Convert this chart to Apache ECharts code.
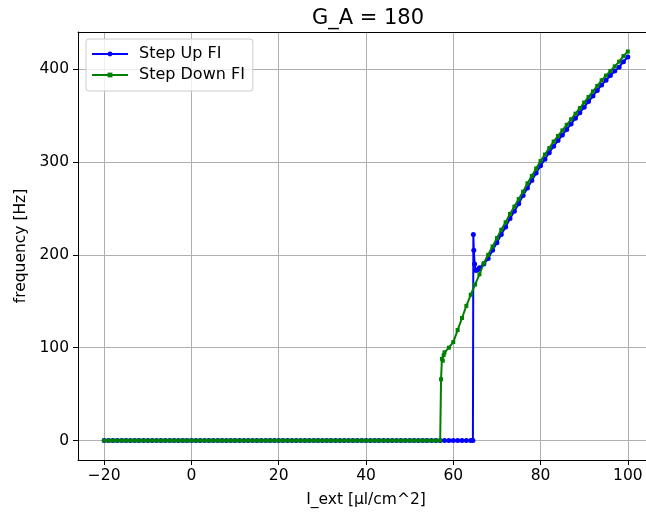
<!DOCTYPE html>
<html>
<head>
<meta charset="utf-8">
<script src="https://cdn.jsdelivr.net/npm/echarts@6/dist/echarts.min.js"></script>
<style>html,body{margin:0;padding:0;background:#fff;overflow:hidden}#c{width:664px;height:516px}</style>
</head>
<body>
<div id="c"></div>
<script>
var title = 'G_A = 180';
var xTicks = [-20, 0, 20, 40, 60, 80, 100];
var yTicks = [0, 100, 200, 300, 400];

// Step Up FI
var upX = [-20,-19,-18,-17,-16,-15,-14,-13,-12,-11,-10,-9,-8,-7,-6,-5,-4,-3,-2,-1,0,
  1,2,3,4,5,6,7,8,9,10,11,12,13,14,15,16,17,18,19,20,21,22,23,24,25,26,27,28,29,30,
  31,32,33,34,35,36,37,38,39,40,41,42,43,44,45,46,47,48,49,50,51,52,53,54,55,56,
  57,58,59,60,61,62,63,64,64.5,
  64.6,64.7,64.9,65.2,65.6,66,67,68,69,70,71,72,73,74,75,76,77,78,79,80,
  81,82,83,84,85,86,87,88,89,90,91,92,93,94,95,96,97,98,99,100];
var upY = [0,0,0,0,0,0,0,0,0,0,0,0,0,0,0,0,0,0,0,0,0,
  0,0,0,0,0,0,0,0,0,0,0,0,0,0,0,0,0,0,0,0,0,0,0,0,0,0,0,0,0,0,
  0,0,0,0,0,0,0,0,0,0,0,0,0,0,0,0,0,0,0,0,0,0,0,0,0,0,
  0,0,0,0,0,0,0,0,0,
  222,205,190,183,184,186,190,196,205,213,222,230,239,247,255,264,272,280,288,296,
  303,310,317,323,329,335,341,347,353,359,365,371,377,383,388,393,398,402,408,413];

// Step Down FI
var downX = [-20,-19,-18,-17,-16,-15,-14,-13,-12,-11,-10,-9,-8,-7,-6,-5,-4,-3,-2,-1,0,
  1,2,3,4,5,6,7,8,9,10,11,12,13,14,15,16,17,18,19,20,21,22,23,24,25,26,27,28,29,30,
  31,32,33,34,35,36,37,38,39,40,41,42,43,44,45,46,47,48,49,50,51,52,53,54,55,56,57,
  57.2,57.4,57.6,57.8,58,59,60,61,62,63,64,65,66,67,68,69,70,71,72,73,74,75,76,77,78,79,80,
  81,82,83,84,85,86,87,88,89,90,91,92,93,94,95,96,97,98,99,100];
var downY = [0,0,0,0,0,0,0,0,0,0,0,0,0,0,0,0,0,0,0,0,0,
  0,0,0,0,0,0,0,0,0,0,0,0,0,0,0,0,0,0,0,0,0,0,0,0,0,0,0,0,0,0,
  0,0,0,0,0,0,0,0,0,0,0,0,0,0,0,0,0,0,0,0,0,0,0,0,0,0,0,
  66,88,86,92,95,100,106,119,132,145,157,168,179,191,200,209,218,227,235,244,252,260,268,277,285,293,301,
  308,315,322,328,334,340,346,352,358,364,370,376,382,388,393,398,403,408,414,419];

function pairs(xs, ys) { return xs.map(function (x, i) { return [x, ys[i]]; }); }

var FONT = 'DejaVu Sans';
var chart = echarts.init(document.getElementById('c'), null, {renderer: 'canvas'});
chart.setOption({
  animation: false,
  backgroundColor: '#ffffff',
  textStyle: {fontFamily: FONT, color: '#000'},
  title: {
    text: title, left: 363, top: 3, textAlign: 'center',
    textStyle: {fontFamily: FONT, fontSize: 21, fontWeight: 'normal', color: '#000'}
  },
  legend: {
    orient: 'vertical', left: 86, top: 39,
    padding: [6, 8, 7, 5],
    itemWidth: 36, itemHeight: 6, itemGap: 3,
    borderColor: '#cccccc', borderWidth: 1, borderRadius: 3,
    backgroundColor: 'rgba(255,255,255,0.8)',
    textStyle: {fontFamily: FONT, fontSize: 16, lineHeight: 18, color: '#000', padding: [0, 0, 0, 6]},
    data: ['Step Up FI', 'Step Down FI']
  },
  grid: {left: 78, right: 10, top: 32, bottom: 56, show: false, outerBoundsMode: 'none', containLabel: false},
  xAxis: [{
    type: 'value', min: -26, max: 106,
    name: 'I_ext [µl/cm^2]', nameLocation: 'middle', nameGap: 32,
    nameTextStyle: {fontFamily: FONT, fontSize: 15.5, color: '#000'},
    axisLine: {show: true, onZero: false, lineStyle: {color: '#000', width: 1}},
    axisTick: {show: true, length: 5, customValues: xTicks, lineStyle: {color: '#000'}},
    axisLabel: {customValues: xTicks, margin: 8, fontFamily: FONT, fontSize: 15.5, color: '#000',
      formatter: function (v) { return String(v).replace('-', '\u2212'); }},
    splitLine: {show: true, lineStyle: {color: '#b0b0b0', width: 1}}
  }, {
    type: 'value', min: -26, max: 106, position: 'top',
    axisLine: {show: true, onZero: false, lineStyle: {color: '#000', width: 1}},
    axisTick: {show: false}, axisLabel: {show: false}, splitLine: {show: false}
  }],
  yAxis: {
    type: 'value', min: -20.95, max: 439.95,
    name: 'frequency [Hz]', nameLocation: 'middle', nameGap: 45,
    nameTextStyle: {fontFamily: FONT, fontSize: 15.5, color: '#000'},
    axisLine: {show: true, onZero: false, lineStyle: {color: '#000', width: 1}},
    axisTick: {show: true, length: 5, customValues: yTicks, lineStyle: {color: '#000'}},
    axisLabel: {customValues: yTicks, margin: 9, fontFamily: FONT, fontSize: 15.5, color: '#000'},
    splitLine: {show: true, lineStyle: {color: '#b0b0b0', width: 1}}
  },
  series: [
    {
      name: 'Step Up FI', type: 'line', data: pairs(upX, upY), xAxisIndex: 0,
      symbol: 'circle', symbolSize: 5, showSymbol: true,
      color: '#0000ff', lineStyle: {width: 2, color: '#0000ff'}, itemStyle: {color: '#0000ff'},
      z: 2
    },
    {
      name: 'Step Down FI', type: 'line', data: pairs(downX, downY), xAxisIndex: 0,
      symbol: 'rect', symbolSize: 4, showSymbol: true,
      color: '#008000', lineStyle: {width: 2, color: '#008000'}, itemStyle: {color: '#008000'},
      z: 3
    }
  ]
});
</script>
</body>
</html>
